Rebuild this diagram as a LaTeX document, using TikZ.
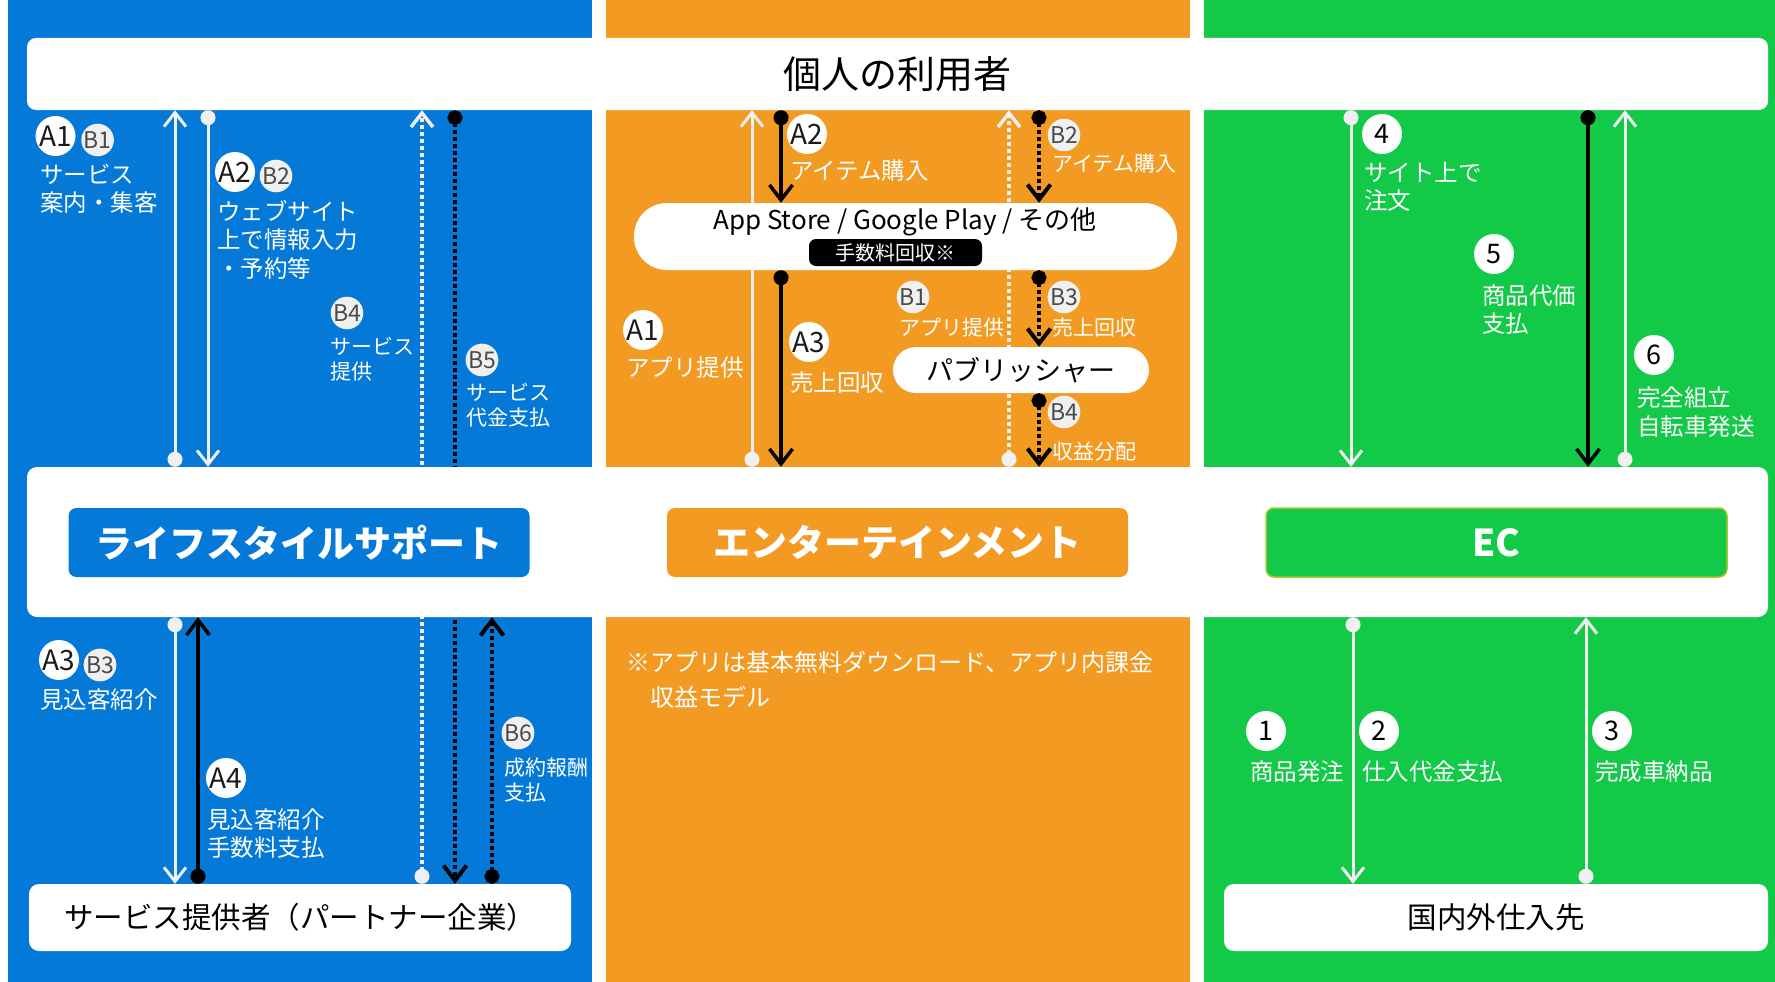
\documentclass[tikz,border=0pt]{standalone}
\usepackage{fontspec}
\setmainfont{Noto Sans CJK JP}
\usetikzlibrary{arrows.meta}
\definecolor{cblue}{HTML}{0479D8}
\definecolor{corange}{HTML}{F39A22}
\definecolor{cgreen}{HTML}{13C948}
\definecolor{clight}{HTML}{F0F0F0}
\definecolor{cecb}{HTML}{A8C82A}
\definecolor{cbtxt}{HTML}{4A4A4A}
\definecolor{catxt}{HTML}{1A1A1A}
\pgfdeclarelayer{bgl}
\pgfdeclarelayer{behind}
\pgfsetlayers{bgl,behind,main}
\newcommand{\fsz}[2]{\fontsize{#1pt}{#2pt}\selectfont}
\tikzset{
  wbox/.style={fill=white, rounded corners=10pt, inner sep=0pt, text=black},
  catbox/.style={rounded corners=8pt, inner sep=0pt, minimum width=461pt, minimum height=69pt, text=white, font=\bfseries\fsz{37}{37}},
  lblA/.style={text=white, anchor=west, align=left, inner sep=0pt, font=\fsz{23.5}{28.5}},
  lblB/.style={text=white, anchor=west, align=left, inner sep=0pt, font=\fsz{21}{25}},
  bA/.style={circle, fill=white, inner sep=0pt, minimum size=40pt, text=catxt, font=\fsz{28}{28}},
  bB/.style={circle, fill=clight, inner sep=0pt, minimum size=30pt, text=cbtxt, font=\fsz{23}{23}},
  bN/.style={circle, fill=white, inner sep=0pt, minimum size=40pt, text=black, font=\fsz{27}{27}},
  lt/.style={draw=clight, line width=3pt, arrows={Circle[length=15pt,width=15pt]-Straight Barb[length=14pt,width=22pt]}},
  bk/.style={draw=black, line width=3.5pt, arrows={Circle[length=15pt,width=15pt]-Straight Barb[length=15pt,width=23pt]}},
  dotl/.style={lt, line width=3.5pt, dash pattern=on 4pt off 3pt},
  dotk/.style={bk, line width=4pt, dash pattern=on 4pt off 3pt},
}
\begin{document}
\begin{tikzpicture}[x=1pt,y=-1pt]
\begin{pgfonlayer}{bgl}
\fill[white] (0,0) rectangle (1775,982);
\fill[cblue] (8,0) rectangle (592,982);
\fill[corange] (606,0) rectangle (1190,982);
\fill[cgreen] (1204,0) rectangle (1775,982);
\end{pgfonlayer}
\useasboundingbox (0,0) rectangle (1775,982);

% boxes
\node[wbox, rounded corners=9pt, minimum width=1741pt, minimum height=72pt, font=\fsz{38}{38}] (top) at (897.5,74) {個人の利用者};
\node[wbox, minimum width=1741pt, minimum height=150pt] (mid) at (897.5,542) {};
\node[catbox, fill=cblue] (ls) at (299,542.5) {ライフスタイルサポート};
\node[catbox, fill=corange] (ent) at (897.5,542.5) {エンターテインメント};
\node[catbox, fill=cgreen, draw=cecb, line width=1.5pt] (ec) at (1496.5,542.5) {EC};
\node[wbox, minimum width=542pt, minimum height=67pt, font=\fsz{29.5}{29.5}] (prov) at (300,917.5) {サービス提供者（パートナー企業）};
\node[wbox, minimum width=544pt, minimum height=67pt, font=\fsz{29.5}{29.5}] (supp) at (1496,917.5) {国内外仕入先};
\node[wbox, rounded corners=33pt, minimum width=543pt, minimum height=67pt] (store) at (905.5,236.5) {};
\node[inner sep=0pt, font=\fsz{26}{26}] (storetxt) at (905,222) {App Store / Google Play / その他};
\node[fill=black, rounded corners=7pt, minimum width=173pt, minimum height=27pt, inner sep=0pt, text=white, font=\fsz{20}{20}] (fee) at (895.5,252.5) {手数料回収※};
\node[wbox, rounded corners=23pt, minimum width=256pt, minimum height=46pt, font=\fsz{27}{27}] (pub) at (1021,370) {パブリッシャー};

% x positions of connectors
\foreach \n/\x in {b1/175,b2/208,b3/198,b4/422,b5/455,b6/492,o1/752,o2/781,o3/1009,o4/1039,g1/1351,g2/1588,g3/1625,g4/1353,g5/1586}
  \coordinate (\n) at (\x,0);

% connectors passing behind boxes
\begin{pgfonlayer}{behind}
\draw[dotl] (prov.north -| b4) -- (top.south -| b4);
\draw[dotk] (top.south -| b5) -- (prov.north -| b5);
\draw[lt] (mid.north -| o1) -- (top.south -| o1);
\draw[dotl] (mid.north -| o3) -- (top.south -| o3);
\end{pgfonlayer}

% blue column
\draw[lt] (mid.north -| b1) -- (top.south -| b1);
\draw[lt] (top.south -| b2) -- (mid.north -| b2);
\draw[lt] (mid.south -| b1) -- (prov.north -| b1);
\draw[bk] (prov.north -| b3) -- (mid.south -| b3);
\draw[dotk] (prov.north -| b6) -- (mid.south -| b6);
% orange column
\draw[bk] (top.south -| o2) -- (store.north -| o2);
\draw[bk] (store.south -| o2) -- (mid.north -| o2);
\draw[dotk] (top.south -| o4) -- (store.north -| o4);
\draw[dotk] (store.south -| o4) -- (pub.north -| o4);
\draw[dotk] (pub.south -| o4) -- (mid.north -| o4);
% green column
\draw[lt] (top.south -| g1) -- (mid.north -| g1);
\draw[bk] (top.south -| g2) -- (mid.north -| g2);
\draw[lt] (mid.north -| g3) -- (top.south -| g3);
\draw[lt] (mid.south -| g4) -- (supp.north -| g4);
\draw[lt] (supp.north -| g5) -- (mid.south -| g5);

% blue labels
\node[bA] (bA1) at (55.5,136) {A1};
\node[bB] (bB1) at (97.6,140) {B1};
\node[lblA] (t1) at (40,189) {サービス\\案内・集客};
\node[bA] (bA2) at (235,172) {A2};
\node[bB] (bB2) at (276,176) {B2};
\node[lblA] (t2) at (217,239.5) {ウェブサイト\\上で情報入力\\・予約等};
\node[bB] (bB4) at (347,313) {B4};
\node[lblB] (t3) at (330,359.5) {サービス\\提供};
\node[bB] (bB5) at (482,360) {B5};
\node[lblB] (t4) at (466,405.5) {サービス\\代金支払};
\node[bA] (bA3) at (59,660) {A3};
\node[bB] (bB3) at (100,665) {B3};
\node[lblA] (t5) at (40,700) {見込客紹介};
\node[bA] (bA4) at (226,778) {A4};
\node[lblA] (t6) at (207,833.5) {見込客紹介\\手数料支払};
\node[bB] (bB6) at (518,733) {B6};
\node[lblB] (t7) at (504,780) {成約報酬\\支払};

% orange labels
\node[bA] (oA2) at (807,134) {A2};
\node[lblA] (o2t) at (790,171) {アイテム購入};
\node[bB] (oB2) at (1064,135) {B2};
\node[lblB] (ob2t) at (1052,164) {アイテム購入};
\node[bB] (oB1) at (913,297) {B1};
\node[lblB] (ob1t) at (899,328) {アプリ提供};
\node[bB] (oB3) at (1064,297) {B3};
\node[lblB] (ob3t) at (1052,328) {売上回収};
\node[bA] (oA1) at (643,330) {A1};
\node[lblA] (o1t) at (626,368) {アプリ提供};
\node[bA] (oA3) at (809,342) {A3};
\node[lblA] (o3t) at (790,383) {売上回収};
\node[bB] (oB4) at (1064,412) {B4};
\node[lblB] (ob4t) at (1052,452) {収益分配};
\node[lblA, font=\fsz{24}{35}] (note) at (626,679.5) {※アプリは基本無料ダウンロード、アプリ内課金\\\hspace*{1em}収益モデル};

% green labels
\node[bN] (n4) at (1382,134) {4};
\node[lblA] (g4t) at (1364,187) {サイト上で\\注文};
\node[bN] (n5) at (1494,254) {5};
\node[lblA] (g5t) at (1482,309.5) {商品代価\\支払};
\node[bN] (n6) at (1654,355) {6};
\node[lblA] (g6t) at (1637,412) {完全組立\\自転車発送};
\node[bN] (n1) at (1266,731) {1};
\node[lblA] (g1t) at (1250,772) {商品発注};
\node[bN] (n2) at (1379,731) {2};
\node[lblA] (g2t) at (1362,772) {仕入代金支払};
\node[bN] (n3) at (1612,731) {3};
\node[lblA] (g3t) at (1595,772) {完成車納品};
\end{tikzpicture}
\end{document}
